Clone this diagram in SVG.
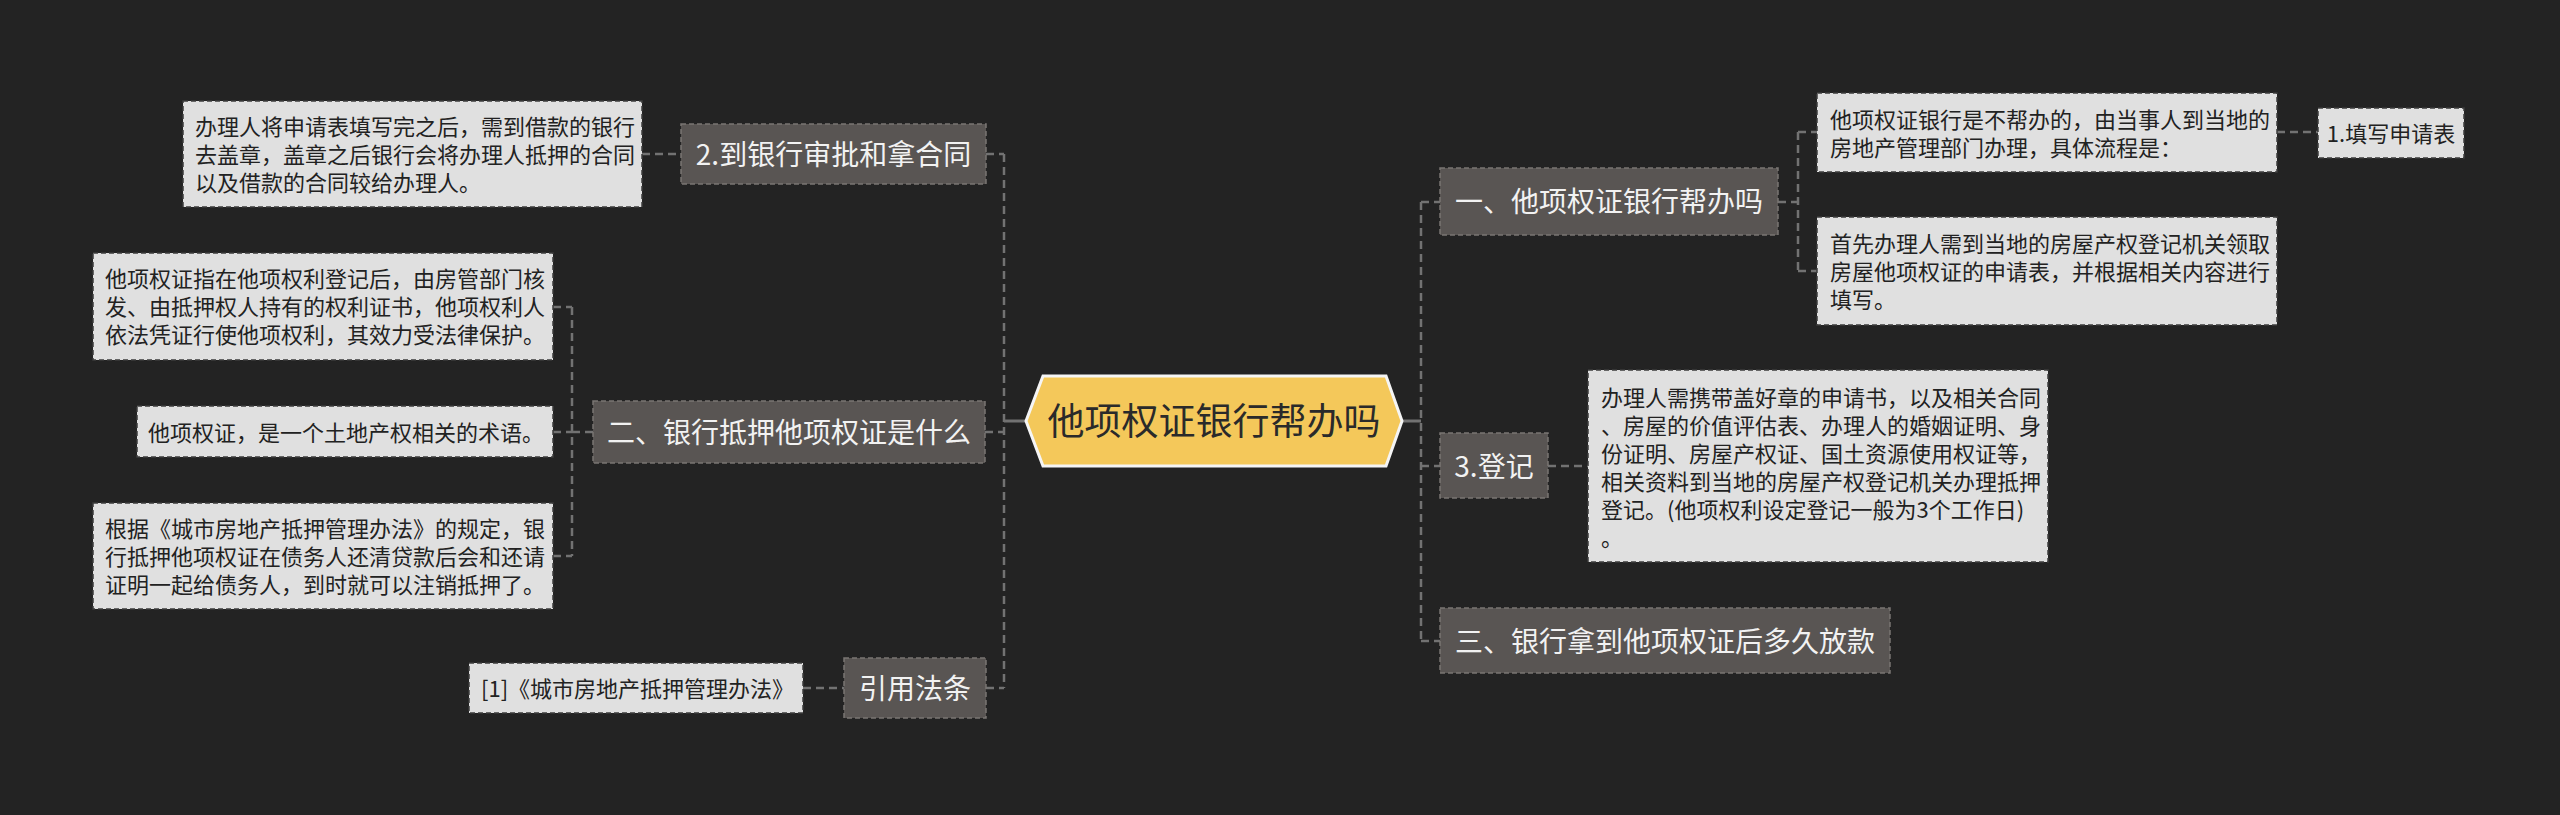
<svg xmlns="http://www.w3.org/2000/svg" width="2560" height="815" viewBox="0 0 2560 815">
<style>
.bg{fill:#232323}
.topic{fill:#595553;stroke:#7a7673;stroke-width:1.5;stroke-dasharray:5 3}
.leaf{fill:#e0e0e0;stroke:#3c3c3c;stroke-width:1.5;stroke-dasharray:5 3}
.tt{font-family:"Noto Sans CJK SC","Noto Sans",sans-serif;font-size:28px;fill:#f2f2f2}
.lt{font-family:"Noto Sans CJK SC","Noto Sans",sans-serif;font-size:22px;fill:#222}
.ct{font-family:"Noto Sans CJK SC","Noto Sans",sans-serif;font-size:37px;fill:#2a2a2a}
.con{fill:none;stroke:#727272;stroke-width:2.5;stroke-dasharray:8 5}
.solid{fill:none;stroke:#727272;stroke-width:3}
</style>
<rect class="bg" x="0" y="0" width="2560" height="815"/>
<g id="connectors">
<line class="solid" x1="1029" y1="421" x2="1004" y2="421"/>
<line class="con" x1="1004" y1="154" x2="1004" y2="688"/>
<line class="con" x1="986" y1="154" x2="1004" y2="154"/>
<line class="con" x1="985" y1="432" x2="1004" y2="432"/>
<line class="con" x1="986" y1="688" x2="1004" y2="688"/>
<line class="con" x1="642" y1="154" x2="681" y2="154"/>
<line class="con" x1="572" y1="432" x2="593" y2="432"/>
<line class="con" x1="572" y1="307" x2="572" y2="556"/>
<line class="con" x1="553" y1="307" x2="572" y2="307"/>
<line class="con" x1="553" y1="432" x2="572" y2="432"/>
<line class="con" x1="553" y1="556" x2="572" y2="556"/>
<line class="con" x1="803" y1="688" x2="844" y2="688"/>
<line class="solid" x1="1401" y1="421" x2="1421" y2="421"/>
<line class="con" x1="1421" y1="202" x2="1421" y2="641"/>
<line class="con" x1="1421" y1="202" x2="1440" y2="202"/>
<line class="con" x1="1421" y1="466" x2="1440" y2="466"/>
<line class="con" x1="1421" y1="641" x2="1440" y2="641"/>
<line class="con" x1="1778" y1="202" x2="1798" y2="202"/>
<line class="con" x1="1798" y1="132" x2="1798" y2="271"/>
<line class="con" x1="1798" y1="132" x2="1817" y2="132"/>
<line class="con" x1="1798" y1="271" x2="1817" y2="271"/>
<line class="con" x1="2277" y1="132" x2="2318" y2="132"/>
<line class="con" x1="1548" y1="466" x2="1588" y2="466"/>
</g>
<g id="center">
<polygon points="1026,421 1043,376 1386,376 1402,421 1386,466 1043,466" fill="#f4c85a" stroke="#f5f5f5" stroke-width="3"/>
<text class="ct" x="1214" y="435" text-anchor="middle">他项权证银行帮办吗</text>
</g>
<g id="n-bank-approve">
<rect class="topic" x="681" y="124" width="305" height="60"/>
<text class="tt" x="833.5" y="164.5" text-anchor="middle">2.到银行审批和拿合同</text>
</g>
<g id="leaf-bank-approve">
<rect class="leaf" x="183" y="101" width="459" height="106"/>
<text class="lt" x="195" y="134.5">办理人将申请表填写完之后，需到借款的银行</text>
<text class="lt" x="195" y="162.5">去盖章，盖章之后银行会将办理人抵押的合同</text>
<text class="lt" x="195" y="190.5">以及借款的合同较给办理人。</text>
</g>
<g id="n-what">
<rect class="topic" x="593" y="401" width="392" height="62"/>
<text class="tt" x="789" y="442.5" text-anchor="middle">二、银行抵押他项权证是什么</text>
</g>
<g id="leaf-what-1">
<rect class="leaf" x="93" y="253" width="460" height="107"/>
<text class="lt" x="105" y="287">他项权证指在他项权利登记后，由房管部门核</text>
<text class="lt" x="105" y="315">发、由抵押权人持有的权利证书，他项权利人</text>
<text class="lt" x="105" y="343">依法凭证行使他项权利，其效力受法律保护。</text>
</g>
<g id="leaf-what-2">
<rect class="leaf" x="137" y="406" width="416" height="51"/>
<text class="lt" x="148" y="440.5">他项权证，是一个土地产权相关的术语。</text>
</g>
<g id="leaf-what-3">
<rect class="leaf" x="93" y="503" width="460" height="106"/>
<text class="lt" x="105" y="536.5">根据《城市房地产抵押管理办法》的规定，银</text>
<text class="lt" x="105" y="564.5">行抵押他项权证在债务人还清贷款后会和还请</text>
<text class="lt" x="105" y="592.5">证明一起给债务人，到时就可以注销抵押了。</text>
</g>
<g id="n-law">
<rect class="topic" x="844" y="658" width="142" height="60"/>
<text class="tt" x="915" y="698.5" text-anchor="middle">引用法条</text>
</g>
<g id="leaf-law">
<rect class="leaf" x="469" y="663" width="334" height="50"/>
<text class="lt" x="481" y="696.5">[1]《城市房地产抵押管理办法》</text>
</g>
<g id="n-help">
<rect class="topic" x="1440" y="168" width="338" height="67"/>
<text class="tt" x="1609" y="212" text-anchor="middle">一、他项权证银行帮办吗</text>
</g>
<g id="leaf-help-1">
<rect class="leaf" x="1817" y="93" width="460" height="79"/>
<text class="lt" x="1830" y="127.5">他项权证银行是不帮办的，由当事人到当地的</text>
<text class="lt" x="1830" y="155.5">房地产管理部门办理，具体流程是：</text>
</g>
<g id="leaf-fill">
<rect class="leaf" x="2318" y="108" width="146" height="50"/>
<text class="lt" x="2391" y="141.5" text-anchor="middle">1.填写申请表</text>
</g>
<g id="leaf-help-2">
<rect class="leaf" x="1817" y="217" width="460" height="108"/>
<text class="lt" x="1830" y="251.5">首先办理人需到当地的房屋产权登记机关领取</text>
<text class="lt" x="1830" y="279.5">房屋他项权证的申请表，并根据相关内容进行</text>
<text class="lt" x="1830" y="307.5">填写。</text>
</g>
<g id="n-register">
<rect class="topic" x="1440" y="433" width="108" height="65"/>
<text class="tt" x="1494" y="476.5" text-anchor="middle">3.登记</text>
</g>
<g id="leaf-register">
<rect class="leaf" x="1588" y="370" width="460" height="192"/>
<text class="lt" x="1601" y="405.5">办理人需携带盖好章的申请书，以及相关合同</text>
<text class="lt" x="1601" y="433.5">、房屋的价值评估表、办理人的婚姻证明、身</text>
<text class="lt" x="1601" y="461.5">份证明、房屋产权证、国土资源使用权证等，</text>
<text class="lt" x="1601" y="489.5">相关资料到当地的房屋产权登记机关办理抵押</text>
<text class="lt" x="1601" y="517.5">登记。(他项权利设定登记一般为3个工作日)</text>
<text class="lt" x="1601" y="545.5">。</text>
</g>
<g id="n-loan">
<rect class="topic" x="1440" y="608" width="450" height="65"/>
<text class="tt" x="1665" y="651.5" text-anchor="middle">三、银行拿到他项权证后多久放款</text>
</g>
</svg>
